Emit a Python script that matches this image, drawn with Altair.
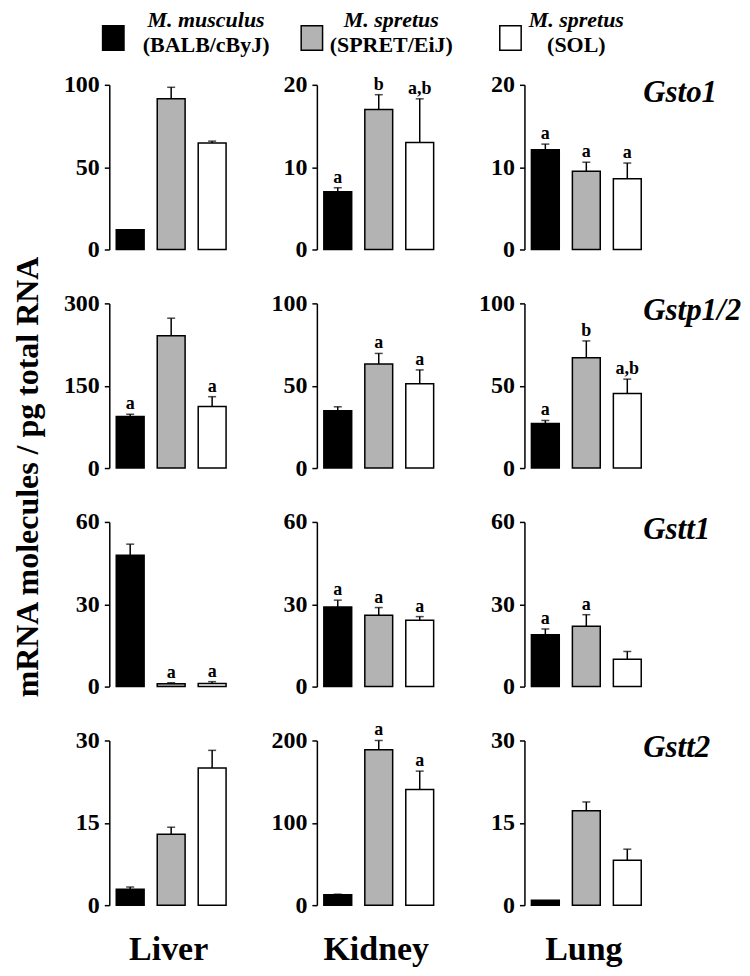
import altair as alt
import pandas as pd

SERIF = "Liberation Serif, Times New Roman, Times, serif"

genes = ["Gsto1", "Gstp1/2", "Gstt1", "Gstt2"]
tissues = ["Liver", "Kidney", "Lung"]
strains = ["BALB/cByJ", "SPRET/EiJ", "SOL"]
legend_species = ["M. musculus", "M. spretus", "M. spretus"]
legend_strains = ["(BALB/cByJ)", "(SPRET/EiJ)", "(SOL)"]
strain_colors = ["#000000", "#b3b3b3", "#ffffff"]
y_title = "mRNA molecules / pg total RNA"

# values per gene: [Liver, Kidney, Lung], each listed by strain
gsto1_mean = [[12.0, 91.5, 64.6], [7.0, 17.0, 13.0], [12.1, 9.5, 8.6]]
gsto1_err = [[0.0, 7.0, 1.2], [0.5, 1.8, 5.3], [0.7, 1.1, 1.9]]
gsto1_sig = [["", "", ""], ["a", "b", "a,b"], ["a", "a", "a"]]

gstp_mean = [[94.0, 241.0, 112.0], [34.8, 63.2, 51.2], [27.0, 67.0, 45.2]]
gstp_err = [[4.0, 32.0, 18.0], [2.4, 6.4, 8.4], [1.9, 10.2, 8.8]]
gstp_sig = [["a", "", "a"], ["", "a", "a"], ["a", "b", "a,b"]]

gstt1_mean = [[47.9, 1.0, 1.1], [29.0, 26.0, 24.2], [18.9, 22.0, 10.0]]
gstt1_err = [[4.0, 0.4, 0.7], [2.5, 2.8, 1.3], [2.1, 4.2, 2.8]]
gstt1_sig = [["", "a", "a"], ["a", "a", "a"], ["a", "a", ""]]

gstt2_mean = [[2.9, 12.9, 25.0], [12.5, 188.7, 140.6], [0.9, 17.2, 8.2]]
gstt2_err = [[0.4, 1.3, 3.2], [0.8, 11.3, 22.2], [0.0, 1.6, 2.0]]
gstt2_sig = [["", "", ""], ["", "a", "a"], ["", "", ""]]

axis_max = [[100, 20, 20], [300, 100, 100], [60, 60, 60], [30, 200, 30]]

means = [gsto1_mean, gstp_mean, gstt1_mean, gstt2_mean]
errs = [gsto1_err, gstp_err, gstt1_err, gstt2_err]
sigs = [gsto1_sig, gstp_sig, gstt1_sig, gstt2_sig]

rows = []
for gi, g in enumerate(genes):
    for ti, t in enumerate(tissues):
        for si, s in enumerate(strains):
            m = means[gi][ti][si]
            e = errs[gi][ti][si]
            rows.append(dict(gene=g, tissue=t, strain=s, mean=m, err=e,
                             top=m + e, letter=sigs[gi][ti][si]))
df = pd.DataFrame(rows)

W, H = 124, 165

color_scale = alt.Scale(domain=strains, range=strain_colors)


def panel(gi, ti):
    sub = df[(df.gene == genes[gi]) & (df.tissue == tissues[ti])]
    ymax = axis_max[gi][ti]
    bottom = gi == len(genes) - 1
    if bottom:
        xaxis = alt.Axis(labels=False, ticks=False, domain=False, grid=False,
                         title=tissues[ti], titleFont=SERIF, titleFontWeight="bold",
                         titleFontSize=34, titleColor="black", titleY=54,
                         titleX=W / 2 - 3, titleBaseline="alphabetic")
    else:
        xaxis = None
    x = alt.X("strain:N", sort=strains,
              scale=alt.Scale(domain=strains, paddingInner=0.32, paddingOuter=0.17),
              axis=xaxis)
    yscale = alt.Scale(domain=[0, ymax], nice=False, zero=True)
    yaxis = alt.Axis(values=[0, ymax // 2, ymax], format="d", title=None, grid=False,
                     labelFont=SERIF, labelFontWeight="bold", labelFontSize=24,
                     labelColor="black", labelPadding=5, labelFlush=False,
                     labelOverlap=False, domainColor="black", domainWidth=1.5,
                     tickColor="black", tickWidth=1.5, tickSize=5)

    def Y(field):
        return alt.Y(f"{field}:Q", scale=yscale, axis=yaxis, title=None)

    base = alt.Chart(sub).encode(x=x)
    bars = base.mark_bar(stroke="black", strokeWidth=1.5).encode(
        y=Y("mean"),
        color=alt.Color("strain:N", scale=color_scale, legend=None),
    )
    errbar = base.transform_filter("datum.err > 0").mark_rule(
        color="black", strokeWidth=1.5).encode(y=Y("mean"), y2="top:Q")
    cap = base.transform_filter("datum.err > 0").mark_tick(
        orient="horizontal", size=8, thickness=1.5, color="black").encode(y=Y("top"))
    letters = base.transform_filter("datum.letter != ''").mark_text(
        dy=-5, baseline="alphabetic", font=SERIF, fontWeight="bold",
        fontSize=18, color="black").encode(y=Y("top"), text="letter:N")
    layers = [bars, errbar, cap, letters]

    if ti == len(tissues) - 1:
        lab = alt.Chart(pd.DataFrame({"gene": [genes[gi]]})).mark_text(
            align="left", baseline="alphabetic", font=SERIF, fontStyle="italic",
            fontWeight="bold", fontSize=31, color="black"
        ).encode(text="gene:N", x=alt.value(W - 5), y=alt.value(17))
        layers.append(lab)
    if gi == 1 and ti == 0:
        yt = alt.Chart(pd.DataFrame({"t": [y_title]})).mark_text(
            angle=270, align="center", baseline="middle", font=SERIF,
            fontWeight="bold", fontSize=32, color="black"
        ).encode(text="t:N", x=alt.value(-81), y=alt.value(174))
        layers.append(yt)
    return alt.layer(*layers).properties(width=W, height=H)


panels = [panel(gi, ti) for gi in range(len(genes)) for ti in range(len(tissues))]
grid = alt.concat(*panels, columns=3, spacing={"row": 54, "column": 84}, bounds="flush")

# legend (origin aligned with the Liver plot area)
leg_df = pd.DataFrame({"strain": strains, "species": legend_species, "label": legend_strains})
leg_base = alt.Chart(leg_df)
sq = leg_base.mark_point(
    shape="M-0.875,-1H0.875V1H-0.875Z", size=600, filled=True,
    stroke="black", strokeWidth=1.5, opacity=1
).encode(
    x=alt.X("strain:N", sort=strains,
            scale=alt.Scale(type="point", domain=strains, range=[4, 402], padding=0),
            axis=None),
    y=alt.value(29),
    fill=alt.Fill("strain:N", scale=color_scale, legend=None),
)
tx = alt.X("strain:N", sort=strains,
           scale=alt.Scale(type="point", domain=strains, range=[97, 468], padding=0),
           axis=None)
line1 = leg_base.mark_text(font=SERIF, fontStyle="italic", fontWeight="bold",
                           fontSize=22, baseline="alphabetic", color="black").encode(
    x=tx, y=alt.value(18), text="species:N")
line2 = leg_base.mark_text(font=SERIF, fontWeight="bold", fontSize=22,
                           baseline="alphabetic", color="black").encode(
    x=tx, y=alt.value(43), text="label:N")
legend = alt.layer(sq, line1, line2).resolve_scale(x="independent").properties(
    width=520, height=44)

chart = alt.vconcat(legend, grid, spacing=17).properties(
    padding={"left": 3.5, "top": 0, "right": 0, "bottom": 0}, background="white"
).configure_view(stroke=None)

chart.save("out.html", embed_options={"renderer": "svg", "actions": False})
